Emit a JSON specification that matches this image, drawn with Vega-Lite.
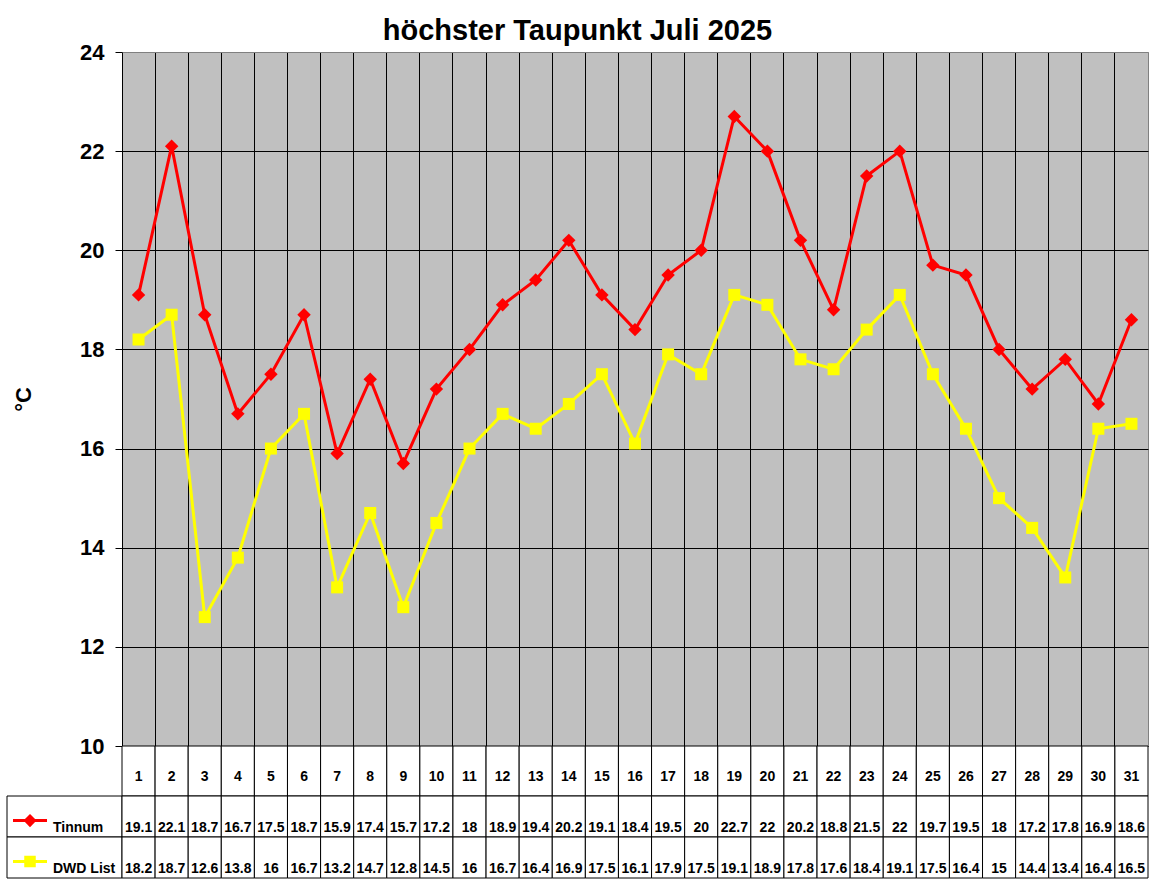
{
  "$schema": "https://vega.github.io/schema/vega-lite/v6.json",
  "title": {
    "text": "höchster Taupunkt Juli 2025",
    "fontSize": 29,
    "fontWeight": "bold",
    "color": "black",
    "anchor": "middle",
    "offset": -5
  },
  "padding": {"left": 6, "right": 4, "top": 16, "bottom": 5},
  "background": "white",
  "columns": 2,
  "spacing": 0,
  "bounds": "flush",
  "align": "each",
  "resolve": {
    "scale": {"color": "independent", "shape": "independent", "size": "independent", "fill": "independent", "stroke": "independent"}
  },
  "datasets": {
    "taupunkt": [
      {"day": 1, "series": "Tinnum", "value": 19.1},
      {"day": 2, "series": "Tinnum", "value": 22.1},
      {"day": 3, "series": "Tinnum", "value": 18.7},
      {"day": 4, "series": "Tinnum", "value": 16.7},
      {"day": 5, "series": "Tinnum", "value": 17.5},
      {"day": 6, "series": "Tinnum", "value": 18.7},
      {"day": 7, "series": "Tinnum", "value": 15.9},
      {"day": 8, "series": "Tinnum", "value": 17.4},
      {"day": 9, "series": "Tinnum", "value": 15.7},
      {"day": 10, "series": "Tinnum", "value": 17.2},
      {"day": 11, "series": "Tinnum", "value": 18},
      {"day": 12, "series": "Tinnum", "value": 18.9},
      {"day": 13, "series": "Tinnum", "value": 19.4},
      {"day": 14, "series": "Tinnum", "value": 20.2},
      {"day": 15, "series": "Tinnum", "value": 19.1},
      {"day": 16, "series": "Tinnum", "value": 18.4},
      {"day": 17, "series": "Tinnum", "value": 19.5},
      {"day": 18, "series": "Tinnum", "value": 20},
      {"day": 19, "series": "Tinnum", "value": 22.7},
      {"day": 20, "series": "Tinnum", "value": 22},
      {"day": 21, "series": "Tinnum", "value": 20.2},
      {"day": 22, "series": "Tinnum", "value": 18.8},
      {"day": 23, "series": "Tinnum", "value": 21.5},
      {"day": 24, "series": "Tinnum", "value": 22},
      {"day": 25, "series": "Tinnum", "value": 19.7},
      {"day": 26, "series": "Tinnum", "value": 19.5},
      {"day": 27, "series": "Tinnum", "value": 18},
      {"day": 28, "series": "Tinnum", "value": 17.2},
      {"day": 29, "series": "Tinnum", "value": 17.8},
      {"day": 30, "series": "Tinnum", "value": 16.9},
      {"day": 31, "series": "Tinnum", "value": 18.6},
      {"day": 1, "series": "DWD List", "value": 18.2},
      {"day": 2, "series": "DWD List", "value": 18.7},
      {"day": 3, "series": "DWD List", "value": 12.6},
      {"day": 4, "series": "DWD List", "value": 13.8},
      {"day": 5, "series": "DWD List", "value": 16},
      {"day": 6, "series": "DWD List", "value": 16.7},
      {"day": 7, "series": "DWD List", "value": 13.2},
      {"day": 8, "series": "DWD List", "value": 14.7},
      {"day": 9, "series": "DWD List", "value": 12.8},
      {"day": 10, "series": "DWD List", "value": 14.5},
      {"day": 11, "series": "DWD List", "value": 16},
      {"day": 12, "series": "DWD List", "value": 16.7},
      {"day": 13, "series": "DWD List", "value": 16.4},
      {"day": 14, "series": "DWD List", "value": 16.9},
      {"day": 15, "series": "DWD List", "value": 17.5},
      {"day": 16, "series": "DWD List", "value": 16.1},
      {"day": 17, "series": "DWD List", "value": 17.9},
      {"day": 18, "series": "DWD List", "value": 17.5},
      {"day": 19, "series": "DWD List", "value": 19.1},
      {"day": 20, "series": "DWD List", "value": 18.9},
      {"day": 21, "series": "DWD List", "value": 17.8},
      {"day": 22, "series": "DWD List", "value": 17.6},
      {"day": 23, "series": "DWD List", "value": 18.4},
      {"day": 24, "series": "DWD List", "value": 19.1},
      {"day": 25, "series": "DWD List", "value": 17.5},
      {"day": 26, "series": "DWD List", "value": 16.4},
      {"day": 27, "series": "DWD List", "value": 15},
      {"day": 28, "series": "DWD List", "value": 14.4},
      {"day": 29, "series": "DWD List", "value": 13.4},
      {"day": 30, "series": "DWD List", "value": 16.4},
      {"day": 31, "series": "DWD List", "value": 16.5}
    ]
  },
  "concat": [
    {
      "width": 115,
      "height": 694,
      "data": {"values": [{}]},
      "mark": {"type": "text", "text": ""}
    },
    {
      "width": 1026,
      "height": 694,
      "data": {"name": "taupunkt"},
      "view": {"fill": "#C0C0C0", "stroke": "#808080"},
      "encoding": {
        "x": {
          "field": "day",
          "type": "ordinal",
          "scale": {"type": "band", "paddingInner": 0, "paddingOuter": 0},
          "axis": {
            "bandPosition": 0,
            "labels": false,
            "ticks": false,
            "domain": false,
            "grid": true,
            "gridColor": "black",
            "gridOpacity": 1,
            "title": null
          }
        },
        "y": {
          "field": "value",
          "type": "quantitative",
          "scale": {"domain": [10, 24], "nice": false, "zero": false},
          "axis": {
            "values": [10, 12, 14, 16, 18, 20, 22, 24],
            "title": "°C",
            "grid": true,
            "gridColor": {
              "condition": {"test": "datum.value === 24", "value": "#808080"},
              "value": "black"
            },
            "gridOpacity": 1,
            "domain": false,
            "ticks": true,
            "tickSize": 7,
            "tickColor": "black",
            "labelPadding": 11,
            "labelFontSize": 22,
            "labelFontWeight": "bold",
            "labelColor": "black",
            "titleFontSize": 22,
            "titleFontWeight": "bold",
            "titleColor": "black",
            "titlePadding": 44
          }
        },
        "color": {
          "field": "series",
          "type": "nominal",
          "scale": {"domain": ["Tinnum", "DWD List"], "range": ["#FF0000", "#FFFF00"]},
          "legend": null
        }
      },
      "layer": [
        {"mark": {"type": "line", "strokeWidth": 3}},
        {
          "mark": {"type": "point", "filled": true, "opacity": 1},
          "encoding": {
            "shape": {
              "field": "series",
              "type": "nominal",
              "scale": {"domain": ["Tinnum", "DWD List"], "range": ["diamond", "square"]},
              "legend": null
            },
            "size": {
              "field": "series",
              "type": "nominal",
              "scale": {"domain": ["Tinnum", "DWD List"], "range": [180, 144]},
              "legend": null
            }
          }
        }
      ]
    },
    {
      "width": 115,
      "height": 50,
      "data": {"values": [{}]},
      "mark": {"type": "text", "text": ""}
    },
    {
      "width": 1026,
      "height": 50,
      "data": {"name": "taupunkt"},
      "transform": [{"filter": "datum.series === 'Tinnum'"}],
      "encoding": {
        "x": {
          "field": "day",
          "type": "ordinal",
          "scale": {"type": "band", "paddingInner": 0, "paddingOuter": 0},
          "axis": null
        }
      },
      "layer": [
        {"mark": {"type": "rect", "fill": "white", "stroke": "black", "strokeWidth": 1}},
        {
          "mark": {"type": "text", "fontSize": 14, "fontWeight": "bold", "color": "black", "baseline": "middle", "dy": 6},
          "encoding": {"text": {"field": "day", "type": "ordinal"}}
        }
      ]
    },
    {
      "width": 115,
      "height": 82,
      "data": {"name": "taupunkt"},
      "transform": [{"filter": "datum.day === 1"}],
      "encoding": {
        "y": {
          "field": "series",
          "type": "nominal",
          "scale": {"type": "band", "domain": ["Tinnum", "DWD List"], "paddingInner": 0, "paddingOuter": 0},
          "axis": null
        }
      },
      "layer": [
        {"mark": {"type": "rect", "fill": "white", "stroke": "black", "strokeWidth": 1}},
        {
          "mark": {"type": "point", "filled": true, "opacity": 1, "strokeWidth": 3, "size": 1156},
          "encoding": {
            "x": {"datum": 0.2, "type": "quantitative", "scale": {"domain": [0, 1], "nice": false}, "axis": null},
            "y": {"field": "series", "type": "nominal", "bandPosition": 0.6},
            "shape": {
              "field": "series",
              "type": "nominal",
              "scale": {
                "domain": ["Tinnum", "DWD List"],
                "range": [
                  "M-1,0L1,0M0,-0.26L0.26,0L0,0.26L-0.26,0Z",
                  "M-1,0L1,0M-0.25,-0.25L0.25,-0.25L0.25,0.25L-0.25,0.25Z"
                ]
              },
              "legend": null
            },
            "fill": {
              "field": "series",
              "type": "nominal",
              "scale": {"domain": ["Tinnum", "DWD List"], "range": ["#FF0000", "#FFFF00"]},
              "legend": null
            },
            "stroke": {
              "field": "series",
              "type": "nominal",
              "scale": {"domain": ["Tinnum", "DWD List"], "range": ["#FF0000", "#FFFF00"]},
              "legend": null
            }
          }
        },
        {
          "mark": {"type": "text", "fontSize": 14, "fontWeight": "bold", "color": "black", "align": "left", "baseline": "alphabetic", "dy": -5},
          "encoding": {
            "x": {"datum": 0.4, "type": "quantitative"},
            "y": {"field": "series", "type": "nominal", "bandPosition": 1},
            "text": {"field": "series", "type": "nominal"}
          }
        }
      ]
    },
    {
      "width": 1026,
      "height": 82,
      "data": {"name": "taupunkt"},
      "encoding": {
        "x": {
          "field": "day",
          "type": "ordinal",
          "scale": {"type": "band", "paddingInner": 0, "paddingOuter": 0},
          "axis": null
        },
        "y": {
          "field": "series",
          "type": "nominal",
          "scale": {"type": "band", "domain": ["Tinnum", "DWD List"], "paddingInner": 0, "paddingOuter": 0},
          "axis": null
        }
      },
      "layer": [
        {"mark": {"type": "rect", "fill": "white", "stroke": "black", "strokeWidth": 1}},
        {
          "mark": {"type": "text", "fontSize": 14, "fontWeight": "bold", "color": "black", "baseline": "alphabetic", "dy": -5},
          "encoding": {
            "y": {"field": "series", "type": "nominal", "bandPosition": 1},
            "text": {"field": "value", "type": "quantitative"}
          }
        }
      ]
    }
  ],
  "config": {
    "font": "Liberation Sans",
    "view": {"stroke": null},
    "axis": {"labelFont": "Liberation Sans", "titleFont": "Liberation Sans"}
  }
}
